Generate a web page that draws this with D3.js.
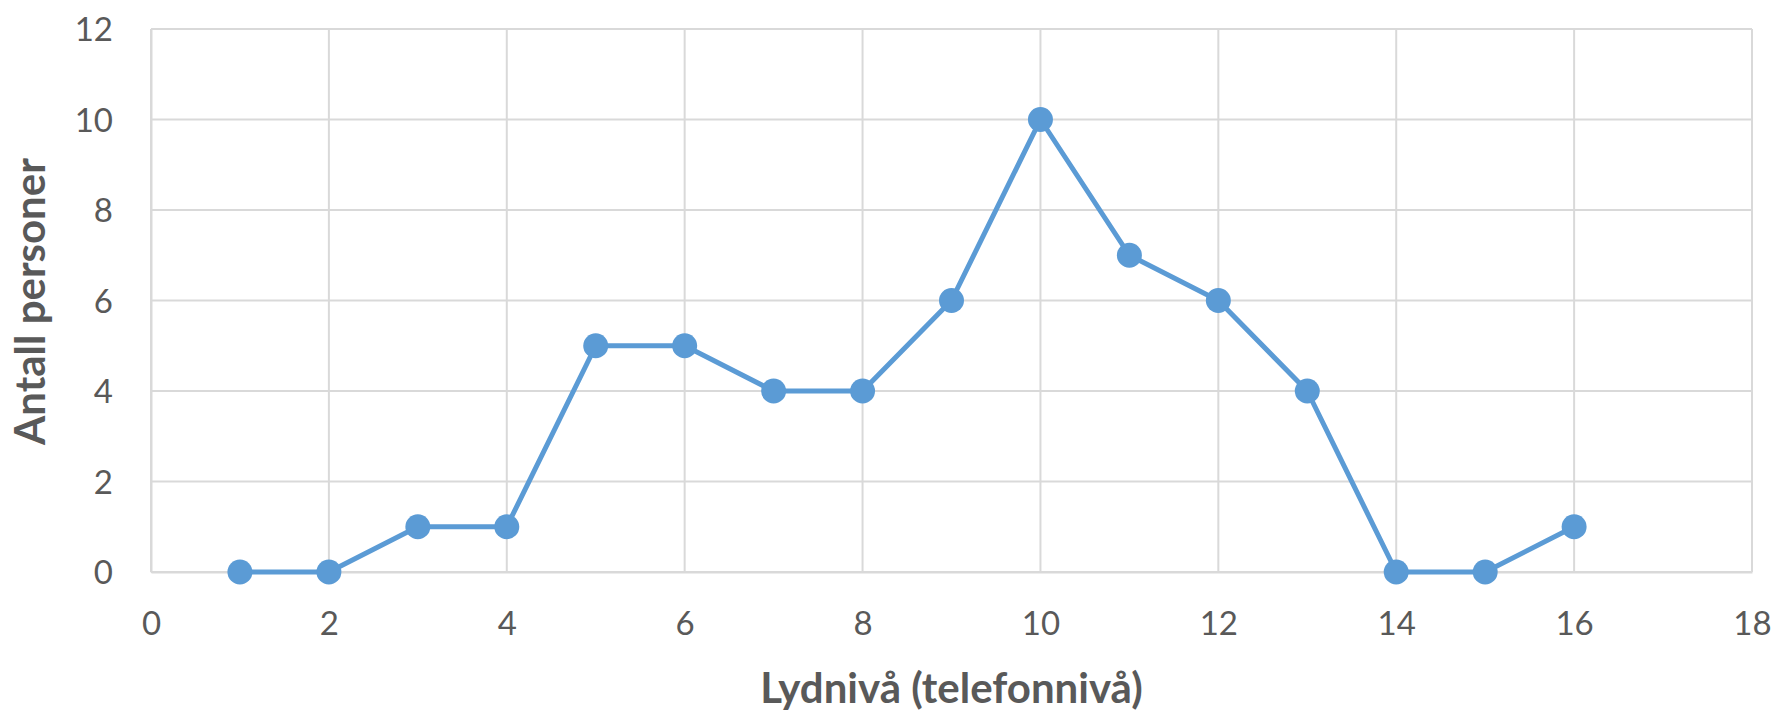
<!DOCTYPE html>
<html><head><meta charset="utf-8">
<script src="https://cdn.jsdelivr.net/npm/d3@7"></script>
<style>body{margin:0;background:#fff}svg{display:block}</style>
</head><body>
<script>
const levels = [1,2,3,4,5,6,7,8,9,10,11,12,13,14,15,16];
const persons = [0,0,1,1,5,5,4,4,6,10,7,6,4,0,0,1];
const xTicks = [0,2,4,6,8,10,12,14,16,18];
const yTicks = [0,2,4,6,8,10,12];
const xTitle = "Lydnivå (telefonnivå)";
const yTitle = "Antall personer";

const W = 1783, H = 714;
const m = {left:151, right:31, top:29, bottom:142};
const svg = d3.select("body").append("svg").attr("width", W).attr("height", H);
const x = d3.scaleLinear().domain([0,18]).range([m.left, W - m.right]);
const y = d3.scaleLinear().domain([0,12]).range([H - m.bottom, m.top]);
const txt = "#595959", grid = "#d9d9d9", blue = "#5b9bd5";
const font = "Lato, 'Open Sans', sans-serif";

// gridlines
svg.append("g").selectAll("line").data(yTicks).join("line")
  .attr("x1", x(0)).attr("x2", x(18)).attr("y1", d => y(d)).attr("y2", d => y(d))
  .attr("stroke", grid).attr("stroke-width", 2);
svg.append("g").selectAll("line").data(xTicks).join("line")
  .attr("y1", y(0)).attr("y2", y(12)).attr("x1", d => x(d)).attr("x2", d => x(d))
  .attr("stroke", grid).attr("stroke-width", 2);

// axes via d3 axis (labels only)
const xAxis = svg.append("g").attr("transform", `translate(0,${y(0)})`)
  .call(d3.axisBottom(x).tickValues(xTicks).tickSize(0).tickPadding(40).tickFormat(d3.format("d")));
xAxis.select(".domain").attr("stroke", grid).attr("stroke-width", 2);
xAxis.selectAll("text").attr("fill", txt).style("font-family", font).style("font-size", "33px");
const yAxis = svg.append("g").attr("transform", `translate(${x(0)},0)`)
  .call(d3.axisLeft(y).tickValues(yTicks).tickSize(0).tickPadding(38).tickFormat(d3.format("d")));
yAxis.select(".domain").attr("stroke", grid).attr("stroke-width", 2);
yAxis.selectAll("text").attr("fill", txt).style("font-family", font).style("font-size", "33px").attr("dy", "0.35em");

// line
const line = d3.line().x((d,i) => x(levels[i])).y(d => y(d));
svg.append("path").datum(persons).attr("d", line)
  .attr("fill", "none").attr("stroke", blue).attr("stroke-width", 5).attr("stroke-linejoin", "round");
svg.append("g").selectAll("circle").data(persons).join("circle")
  .attr("cx", (d,i) => x(levels[i])).attr("cy", d => y(d)).attr("r", 12.5).attr("fill", blue);

// titles
svg.append("text").attr("x", (x(0)+x(18))/2).attr("y", 703).attr("text-anchor", "middle")
  .attr("fill", txt).style("font-family", font).style("font-weight", "bold").style("font-size", "42px").text(xTitle);
svg.append("text").attr("transform", `translate(45,${(y(0)+y(12))/2 + 1}) rotate(-90)`).attr("text-anchor", "middle")
  .attr("fill", txt).style("font-family", font).style("font-weight", "bold").style("font-size", "42px").text(yTitle);
</script>
</body></html>
